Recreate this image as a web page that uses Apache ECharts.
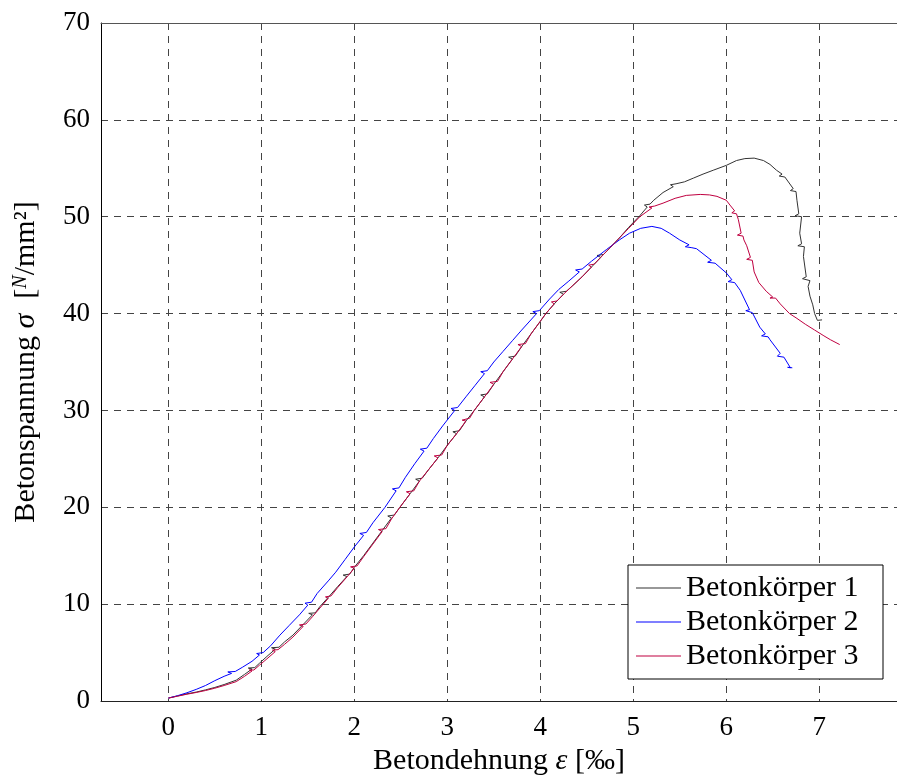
<!DOCTYPE html>
<html>
<head>
<meta charset="utf-8">
<script src="https://cdn.jsdelivr.net/npm/echarts@6/dist/echarts.min.js"></script>
<style>
  html, body { margin: 0; padding: 0; background: #fff; }
  #chart { width: 897px; height: 781px; }
</style>
</head>
<body>
<div id="chart"></div>
<script>
// Stress-strain curves of three concrete specimens (strain in ‰, stress in N/mm²)
const seriesNames = ['Betonkörper 1', 'Betonkörper 2', 'Betonkörper 3'];
const xTickValues = [0, 1, 2, 3, 4, 5, 6, 7];
const yTickValues = [0, 10, 20, 30, 40, 50, 60, 70];

const strain1 = [0,0.1,0.2,0.3,0.4,0.5,0.6,0.73,0.82,0.9,0.86,0.93,0.98,1.06,1.15,1.11,1.19,1.25,1.34,1.45,1.55,1.51,1.58,1.63,1.72,1.82,1.92,1.88,1.95,2.0,2.1,2.2,2.3,2.4,2.36,2.43,2.49,2.6,2.7,2.66,2.73,2.8,2.9,3.0,3.1,3.06,3.13,3.2,3.29,3.4,3.36,3.43,3.5,3.6,3.7,3.66,3.73,3.8,3.9,4.0,4.06,4.15,4.25,4.21,4.28,4.35,4.45,4.55,4.65,4.61,4.68,4.75,4.85,4.95,5.07,5.15,5.12,5.18,5.22,5.32,5.43,5.40,5.46,5.55,5.65,5.75,5.86,6.0,6.11,6.2,6.3,6.4,6.47,6.54,6.6,6.57,6.63,6.65,6.72,6.69,6.75,6.76,6.78,6.74,6.81,6.79,6.81,6.77,6.84,6.83,6.86,6.82,6.9,6.88,6.9,6.93,6.95,6.98,7.03];
const stress1 = [0.3,0.52,0.74,0.92,1.15,1.4,1.7,2.15,2.75,3.3,3.4,3.45,3.9,4.6,5.35,5.5,5.55,6.1,6.8,7.9,8.9,9.05,9.1,9.75,10.7,11.8,12.85,13.0,13.1,13.8,15.0,16.3,17.6,18.9,19.1,19.2,20.0,21.4,22.7,22.9,23.0,23.9,25.1,26.4,27.6,27.8,27.9,28.9,30.0,31.4,31.6,31.7,32.7,34.0,35.3,35.5,35.6,36.6,37.9,39.2,40.0,41.0,42.0,42.2,42.3,42.9,43.8,44.8,45.8,46.0,46.1,46.8,47.8,48.9,50.1,51.0,51.2,51.3,51.7,52.5,53.1,53.3,53.4,53.6,54.0,54.4,54.8,55.3,55.8,56.0,56.05,55.8,55.4,54.8,54.4,54.2,54.1,54.0,52.9,52.7,52.6,51.7,50.3,50.1,50.0,48.3,47.2,47.0,46.9,45.9,43.8,43.6,43.4,42.8,41.8,40.9,40.0,39.3,39.35];

const strain2 = [0,0.1,0.2,0.3,0.4,0.5,0.6,0.68,0.64,0.72,0.8,0.9,0.98,0.95,1.02,1.1,1.2,1.3,1.41,1.5,1.47,1.54,1.6,1.72,1.8,1.9,2.0,2.1,2.06,2.13,2.2,2.33,2.45,2.41,2.48,2.55,2.65,2.75,2.71,2.78,2.85,2.95,3.08,3.04,3.11,3.2,3.3,3.4,3.36,3.43,3.5,3.6,3.7,3.8,3.96,3.92,3.99,4.1,4.2,4.3,4.42,4.38,4.45,4.55,4.71,4.85,4.96,5.08,5.2,5.3,5.39,5.5,5.6,5.56,5.63,5.68,5.84,5.8,5.88,6.0,6.06,6.02,6.09,6.15,6.25,6.21,6.28,6.36,6.42,6.38,6.45,6.47,6.58,6.55,6.62,6.69,6.66,6.71];
const stress2 = [0.3,0.55,0.85,1.2,1.6,2.1,2.55,2.85,3.0,3.05,3.5,4.1,4.75,4.9,5.0,5.7,6.8,7.8,8.9,9.9,10.1,10.2,11.1,12.4,13.3,14.6,15.9,17.1,17.3,17.4,18.4,20.0,21.7,21.9,22.0,23.1,24.5,25.8,26.0,26.1,27.1,28.4,30.0,30.2,30.3,31.4,32.6,33.8,34.0,34.1,35.0,36.1,37.2,38.3,40.0,40.2,40.3,41.5,42.5,43.3,44.3,44.5,44.6,45.4,46.6,47.6,48.3,48.8,49.0,48.8,48.3,47.6,47.1,46.9,46.8,46.7,45.5,45.3,45.2,44.2,43.5,43.3,43.2,42.4,40.4,40.3,40.1,38.6,37.9,37.7,37.6,37.3,35.9,35.6,35.5,34.4,34.45,34.4];

const strain3 = [0,0.1,0.2,0.3,0.4,0.5,0.6,0.73,0.82,0.9,0.87,0.92,0.98,1.06,1.15,1.12,1.18,1.25,1.34,1.45,1.41,1.48,1.55,1.63,1.72,1.69,1.75,1.82,1.92,2.0,1.96,2.03,2.1,2.2,2.3,2.26,2.34,2.4,2.49,2.6,2.56,2.64,2.7,2.8,2.9,2.86,2.94,3.0,3.1,3.2,3.16,3.24,3.29,3.4,3.5,3.46,3.54,3.6,3.7,3.8,3.76,3.84,3.9,4.0,4.06,4.15,4.12,4.18,4.25,4.35,4.45,4.55,4.52,4.58,4.65,4.75,4.85,4.95,5.07,5.2,5.17,5.23,5.32,5.45,5.57,5.72,5.82,5.9,6.0,6.04,6.09,6.06,6.11,6.13,6.16,6.12,6.18,6.19,6.22,6.26,6.22,6.28,6.3,6.35,6.43,6.5,6.47,6.53,6.58,6.68,6.76,6.85,6.95,7.05,7.12,7.22];
const stress3 = [0.3,0.5,0.7,0.88,1.08,1.32,1.6,2.0,2.55,3.1,3.2,3.2,3.7,4.35,5.1,5.25,5.3,5.85,6.6,7.7,7.85,7.95,8.7,9.6,10.6,10.75,10.85,11.7,12.8,13.7,13.85,13.95,14.9,16.2,17.5,17.7,17.8,18.8,20.0,21.4,21.6,21.7,22.7,23.9,25.1,25.3,25.4,26.4,27.6,28.9,29.0,29.2,30.0,31.4,32.7,32.9,33.0,34.0,35.3,36.6,36.8,36.9,37.9,39.2,40.0,41.0,41.2,41.3,42.0,42.9,43.8,44.8,45.0,45.1,45.8,46.8,47.8,48.8,50.0,50.9,51.0,51.1,51.4,51.9,52.2,52.3,52.25,52.1,51.7,51.2,50.6,50.4,50.3,49.7,48.3,48.1,48.0,47.6,47.0,45.8,45.6,45.5,44.3,43.2,42.3,41.7,41.6,41.6,41.0,40.0,39.5,38.9,38.3,37.7,37.3,36.8];

const lineColors = ['#333333', '#0000ff', '#bf0040'];

function pairs(xs, ys) {
  return xs.map(function (x, i) { return [x, ys[i]]; });
}

const FONT = '"Liberation Serif", "DejaVu Serif", serif';
const gridDash = { type: [7, 6], color: '#444', width: 1 };

const chart = echarts.init(document.getElementById('chart'), null, { renderer: 'canvas' });

chart.setOption({
  animation: false,
  backgroundColor: '#fff',
  textStyle: { fontFamily: FONT, color: '#000' },
  grid: { left: 101, right: 0, top: 23, bottom: 80, containLabel: false },
  legend: {
    orient: 'vertical',
    left: 628,
    top: 565,
    padding: [8, 8, 8, 8],
    itemGap: 4,
    itemWidth: 45,
    itemHeight: 1.2,
    icon: 'rect',
    backgroundColor: '#fff',
    borderColor: '#000',
    borderWidth: 1,
    borderRadius: 0,
    textStyle: { fontFamily: FONT, fontSize: 30, color: '#000', lineHeight: 30, height: 30, width: 189 },
    data: seriesNames
  },
  xAxis: [{
    type: 'value',
    min: -0.724,
    max: 7.836,
    name: '{t|Betondehnung }{i|ε}{t| [‰]}',
    nameLocation: 'middle',
    nameGap: 45,
    nameTextStyle: {
      rich: {
        t: { fontFamily: FONT, fontSize: 30, color: '#000' },
        i: { fontFamily: FONT, fontSize: 30, fontStyle: 'italic', color: '#000' }
      }
    },
    axisLine: { show: true, onZero: false, lineStyle: { color: '#222', width: 1 } },
    axisTick: { show: false, customValues: xTickValues },
    axisLabel: { customValues: xTickValues, fontFamily: FONT, fontSize: 27, color: '#000', margin: 13 },
    splitLine: { show: true, lineStyle: gridDash }
  }, {
    type: 'value',
    position: 'top',
    min: -0.724,
    max: 7.836,
    axisLine: { show: true, onZero: false, lineStyle: { color: '#555', width: 1 } },
    axisTick: { show: false },
    axisLabel: { show: false },
    splitLine: { show: false }
  }],
  yAxis: {
    type: 'value',
    min: 0,
    max: 70,
    interval: 10,
    name: '{t|Betonspannung }{i|σ}{t|  [}{n|N}{t|/mm²]}',
    nameLocation: 'middle',
    nameRotate: 90,
    nameGap: 60,
    nameTextStyle: {
      rich: {
        t: { fontFamily: FONT, fontSize: 30, color: '#000' },
        i: { fontFamily: FONT, fontSize: 30, fontStyle: 'italic', color: '#000' },
        n: { fontFamily: FONT, fontSize: 20, fontStyle: 'italic', color: '#000', verticalAlign: 'top' }
      }
    },
    axisLine: { show: true, onZero: false, lineStyle: { color: '#000', width: 1 } },
    axisTick: { show: false },
    axisLabel: { fontFamily: FONT, fontSize: 27, color: '#000', margin: 11 },
    splitLine: { show: true, lineStyle: gridDash }
  },
  series: [
    { name: seriesNames[0], data: pairs(strain1, stress1) },
    { name: seriesNames[1], data: pairs(strain2, stress2) },
    { name: seriesNames[2], data: pairs(strain3, stress3) }
  ].map(function (s, i) {
    return {
      name: s.name,
      type: 'line',
      xAxisIndex: 0,
      data: s.data,
      symbol: 'none',
      showSymbol: false,
      smooth: false,
      clip: true,
      color: lineColors[i],
      lineStyle: { color: lineColors[i], width: 1 },
      itemStyle: { color: lineColors[i] },
      z: 2 + i
    };
  })
});
</script>
</body>
</html>
